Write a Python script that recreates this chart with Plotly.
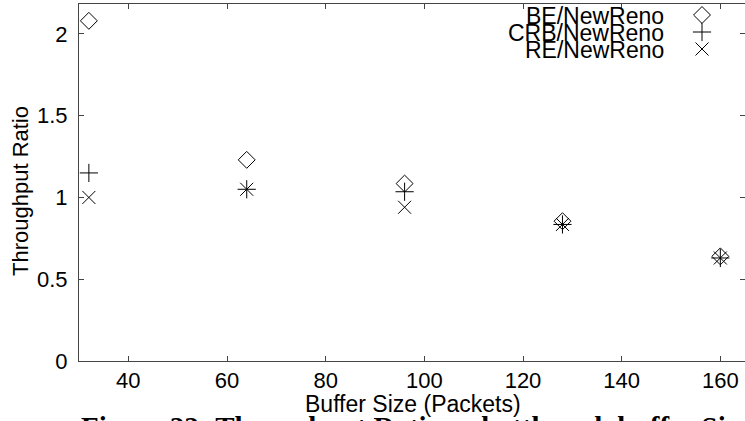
import plotly.graph_objects as go

buffer_sizes = [32, 64, 96, 128, 160]
be_newreno = [2.08, 1.23, 1.085, 0.855, 0.64]
crb_newreno = [1.15, 1.05, 1.035, 0.835, 0.63]
re_newreno = [1.00, 1.05, 0.94, 0.835, 0.63]

series_names = ["BE/NewReno", "CRB/NewReno", "RE/NewReno"]
x_tick_vals = [40, 60, 80, 100, 120, 140, 160]
y_tick_vals = [0, 0.5, 1, 1.5, 2]
x_title = "Buffer Size (Packets)"
y_title = "Throughput Ratio"
caption = "Figure 22: Throughput Ratio vs bottleneck buffer Size"

W, H = 745, 421
L, R, T, B = 79, 0, 4, 60
PW, PH = W - L - R, H - T - B
FONT = "Liberation Sans, Arial, sans-serif"
AX = "#444444"


def px(x):
    return (x - L) / PW


def py(y):
    return (H - B - y) / PH


symbols = ["diamond-open", "cross-thin-open", "x-thin-open"]
sizes = [13, 13, 13]
series = [be_newreno, crb_newreno, re_newreno]

fig = go.Figure()
for name, ys, sym, sz in zip(series_names, series, symbols, sizes):
    fig.add_trace(go.Scatter(
        x=buffer_sizes, y=ys, mode="markers", name=name, showlegend=False,
        marker=dict(symbol=sym, size=sz, color="black",
                    line=dict(color="black", width=1)),
        cliponaxis=False,
    ))

# legend keys drawn on an overlay axis measured in pixels
legend_rows = [15, 32, 49]
legend_key_x = 702
legend_text_right = 666
for name, sym, sz, yy in zip(series_names, symbols, sizes, legend_rows):
    fig.add_trace(go.Scatter(
        x=[legend_key_x], y=[yy], mode="markers", showlegend=False,
        xaxis="x2", yaxis="y2",
        marker=dict(symbol=sym, size=sz, color="black",
                    line=dict(color="black", width=1)),
        cliponaxis=False, hoverinfo="skip",
    ))

annotations = []
for name, yy in zip(series_names, legend_rows):
    annotations.append(dict(x=px(legend_text_right), y=py(yy + 1), xref="paper",
                            yref="paper", text=name, showarrow=False,
                            xanchor="right", yanchor="middle",
                            font=dict(family=FONT, size=23, color="black")))
annotations.append(dict(x=px(413), y=py(404), xref="paper", yref="paper",
                        text=x_title, showarrow=False, xanchor="center",
                        yanchor="middle",
                        font=dict(family=FONT, size=23, color="black")))
annotations.append(dict(x=px(20), y=py(191), xref="paper", yref="paper",
                        text=y_title, showarrow=False, textangle=-90,
                        xanchor="center", yanchor="middle",
                        font=dict(family=FONT, size=22, color="black")))
annotations.append(dict(x=px(416), y=py(427), xref="paper", yref="paper",
                        text="<b>" + caption + "</b>",
                        showarrow=False, xanchor="center", yanchor="middle",
                        font=dict(family="Liberation Serif, Times New Roman, serif",
                                  size=29, color="black")))

axis_common = dict(
    showline=True, linecolor=AX, linewidth=1, mirror="allticks",
    ticks="inside", ticklen=5, tickcolor=AX, tickwidth=1,
    showgrid=False, zeroline=False,
    tickfont=dict(family=FONT, size=22, color="black"),
)

fig.update_layout(
    width=W, height=H,
    margin=dict(l=L, r=R, t=T, b=B),
    paper_bgcolor="white", plot_bgcolor="white",
    showlegend=False,
    xaxis=dict(range=[30, 165], tickvals=x_tick_vals, ticklabelstandoff=0,
               **axis_common),
    yaxis=dict(range=[0, 2.183], tickvals=y_tick_vals, ticklabelstandoff=6,
               **axis_common),
    xaxis2=dict(range=[L, W - R], overlaying="x", visible=False, fixedrange=True),
    yaxis2=dict(range=[H - B, T], overlaying="y", visible=False, fixedrange=True),
    annotations=annotations,
)

fig.write_html("out.html")
